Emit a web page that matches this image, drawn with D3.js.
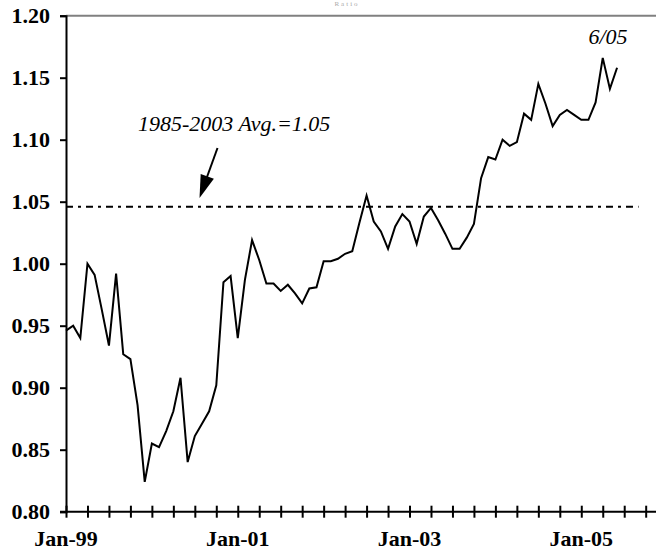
<!DOCTYPE html>
<html><head><meta charset="utf-8">
<script src="https://cdn.jsdelivr.net/npm/d3@7"></script>
<style>html,body{margin:0;padding:0;background:#fff;}svg{display:block;}</style>
</head><body>
<svg id="chart" width="656" height="552"></svg>
<script>
// Monthly values, Jan-99 .. Jun-05
const values = [
  0.946, 0.950, 0.940, 1.000, 0.991, 0.963, 0.934, 0.992, 0.927, 0.923,
  0.886, 0.824, 0.855, 0.852, 0.865, 0.881, 0.908, 0.840, 0.861, 0.871,
  0.881, 0.902, 0.985, 0.990, 0.940, 0.987, 1.019, 1.003, 0.984, 0.984,
  0.978, 0.983, 0.976, 0.968, 0.980, 0.981, 1.002, 1.002, 1.004, 1.008,
  1.010, 1.033, 1.055, 1.034, 1.026, 1.012, 1.030, 1.040, 1.034, 1.016,
  1.038, 1.045, 1.035, 1.024, 1.012, 1.012, 1.021, 1.032, 1.069, 1.086,
  1.084, 1.100, 1.095, 1.098, 1.121, 1.116, 1.145, 1.129, 1.111, 1.120,
  1.124, 1.120, 1.116, 1.116, 1.130, 1.166, 1.141, 1.158
];
const xLabels = ["Jan-99", "Jan-01", "Jan-03", "Jan-05"];
const xLabelIndex = [0, 24, 48, 72];
const yTicks = [0.80, 0.85, 0.90, 0.95, 1.00, 1.05, 1.10, 1.15, 1.20];
const avgValue = 1.046;
const avgSpan = [0, 80];
const avgLabel = "1985-2003 Avg.=1.05";
const endLabel = "6/05";
const nCategories = 84;
const titleText = "Ratio";

(function () {
const svg = d3.select("#chart");
const pl = 66, pr = 660, pt = 15.7, pb = 511.7;
const x = d3.scaleLinear().domain([0, nCategories - 1]).range([pl, pr]);
const y = d3.scaleLinear().domain([0.80, 1.20]).range([pb, pt]);
const serif = "'Liberation Serif','Times New Roman',Times,serif";

// faint title at the very top
svg.append("text").attr("x", 347).attr("y", 6).attr("text-anchor", "middle")
  .attr("font-family", serif).attr("font-size", 7).attr("letter-spacing", 2)
  .attr("fill", "#aaa").text(titleText);

// top border
svg.append("line").attr("x1", pl).attr("x2", 656).attr("y1", pt).attr("y2", pt)
  .attr("stroke", "#808080").attr("stroke-width", 2);

// y axis
const yAxis = d3.axisLeft(y).tickValues(yTicks).tickSize(6).tickPadding(10)
  .tickFormat(d3.format(".2f"));
const gy = svg.append("g").attr("transform", `translate(${pl},0)`).call(yAxis);
gy.select(".domain").attr("stroke", "#000").attr("stroke-width", 2);
gy.selectAll(".tick line").attr("stroke", "#000").attr("stroke-width", 2);
gy.selectAll(".tick text").attr("font-family", serif).attr("font-size", 22)
  .attr("font-weight", "bold").attr("fill", "#000");

// x axis
const tickIdx = d3.range(0, nCategories, 3);
const xAxis = d3.axisBottom(x).tickValues(tickIdx).tickSize(6).tickFormat("");
const gx = svg.append("g").attr("transform", `translate(0,${pb})`).call(xAxis);
gx.select(".domain").remove();
gx.append("line").attr("x1", 60).attr("x2", pr).attr("y1", 0).attr("y2", 0)
  .attr("stroke", "#000").attr("stroke-width", 2);
gx.selectAll(".tick line").attr("y1", -6).attr("y2", 6).attr("stroke", "#000").attr("stroke-width", 2);
svg.append("g").selectAll("text").data(xLabels).join("text")
  .attr("x", (d, i) => x(xLabelIndex[i])).attr("y", 546).attr("text-anchor", "middle")
  .attr("font-family", serif).attr("font-size", 22).attr("font-weight", "bold")
  .attr("fill", "#000").text(d => d);

// average dashed line
svg.append("line").attr("x1", x(avgSpan[0])).attr("x2", x(avgSpan[1]))
  .attr("y1", y(avgValue)).attr("y2", y(avgValue))
  .attr("stroke", "#000").attr("stroke-width", 2).attr("stroke-dasharray", "7,5,3,5");

// series line
const line = d3.line().x((d, i) => x(i)).y(d => y(d));
svg.append("path").datum(values).attr("d", line).attr("fill", "none")
  .attr("stroke", "#000").attr("stroke-width", 2).attr("stroke-linejoin", "miter");

// annotation
svg.append("text").attr("x", 138).attr("y", 131).attr("font-family", serif)
  .attr("font-size", 22).attr("font-style", "italic").attr("fill", "#000").text(avgLabel);
const tip = [199.5, 198], tail = [217.5, 148];
svg.append("line").attr("x1", tail[0]).attr("y1", tail[1]).attr("x2", 207).attr("y2", 177)
  .attr("stroke", "#000").attr("stroke-width", 2);
const ang = Math.atan2(tip[1] - tail[1], tip[0] - tail[0]);
const L = 23, W = 7;
const bx = tip[0] - L * Math.cos(ang), by = tip[1] - L * Math.sin(ang);
const px = -Math.sin(ang) * W, py = Math.cos(ang) * W;
svg.append("path").attr("d", `M${tip[0]},${tip[1]}L${bx + px},${by + py}L${bx - px},${by - py}Z`)
  .attr("fill", "#000");

svg.append("text").attr("x", x(values.length - 1) - 9).attr("y", 44).attr("text-anchor", "middle")
  .attr("font-family", serif).attr("font-size", 22).attr("font-style", "italic")
  .attr("fill", "#000").text(endLabel);
})();
</script>
</body></html>
